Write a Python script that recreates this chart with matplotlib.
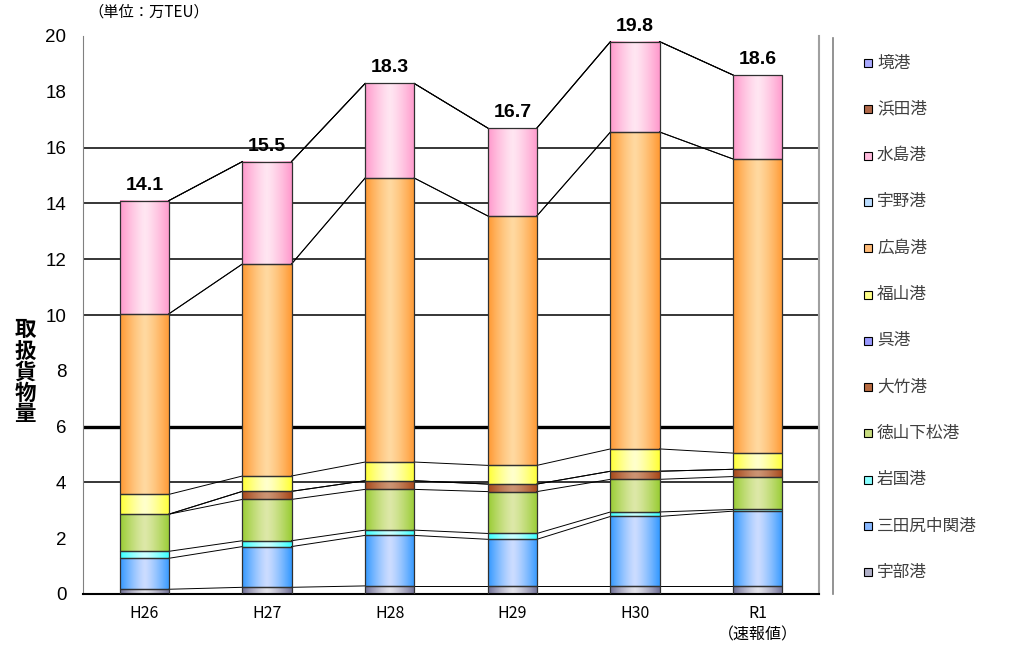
import numpy as np
import matplotlib
matplotlib.use('Agg')
import matplotlib.pyplot as plt
from matplotlib.colors import to_rgb
from matplotlib.lines import Line2D
from matplotlib.patches import Rectangle

plt.rcParams['font.family'] = ['Noto Sans CJK JP', 'DejaVu Sans']
NUM_FONT = ['Liberation Sans Narrow', 'Liberation Sans', 'DejaVu Sans']

# ---- data (万TEU) ----
years = ['H26', 'H27', 'H28', 'H29', 'H30', 'R1\n（速報値）']
ports = ['宇部港', '三田尻中関港', '岩国港', '徳山下松港', '大竹港', '呉港',
         '福山港', '広島港', '宇野港', '水島港', '浜田港', '境港']

ube = [0.17, 0.24, 0.29, 0.29, 0.29, 0.29]
mitajiri = [1.11, 1.46, 1.81, 1.67, 2.49, 2.68]
iwakuni = [0.25, 0.21, 0.19, 0.21, 0.16, 0.06]
tokuyama = [1.33, 1.48, 1.46, 1.50, 1.17, 1.18]
otake = [0.00, 0.29, 0.31, 0.27, 0.29, 0.26]
kure = [0.00, 0.00, 0.00, 0.00, 0.00, 0.00]
fukuyama = [0.71, 0.55, 0.67, 0.67, 0.80, 0.58]
hiroshima = [6.47, 7.60, 10.18, 8.94, 11.36, 10.54]
uno = [0.00, 0.00, 0.00, 0.00, 0.00, 0.00]
mizushima = [4.06, 3.67, 3.39, 3.15, 3.24, 3.01]
hamada = [0.00, 0.00, 0.00, 0.00, 0.00, 0.00]
sakai = [0.00, 0.00, 0.00, 0.00, 0.00, 0.00]

series = [ube, mitajiri, iwakuni, tokuyama, otake, kure,
          fukuyama, hiroshima, uno, mizushima, hamada, sakai]

# (edge shade, centre highlight) for the cylinder-like gradient
shades = [('#707096', '#e2e2ea'), ('#3399ff', '#ccdcff'), ('#33ffff', '#ccffff'),
          ('#99cc33', '#dde8a8'), ('#a84818', '#cc9474'), ('#4444dd', '#ccccff'),
          ('#ffff33', '#ffffcc'), ('#ff9933', '#ffd9a0'), ('#66aaff', '#e0f0ff'),
          ('#ff99cc', '#ffe6f2'), ('#a04820', '#cc9474'), ('#7777ff', '#ccccff')]
legend_face = ['#b0b0c8', '#88b8ff', '#88ffff', '#c8dd80', '#b86a40', '#9999ff',
               '#ffff88', '#ffbb77', '#bbddff', '#ffbbdd', '#b06848', '#aaaaff']

W = 0.40
x = np.arange(len(years))

fig = plt.figure(figsize=(10.17, 6.59), dpi=100)
ax = fig.add_axes([83 / 1017, 65 / 659, (819 - 83) / 1017, (594 - 36) / 659])

# horizontal reference lines
for g in [4, 10, 12, 14, 16]:
    ax.axhline(g, color='black', lw=1.1, zorder=1)
ax.axhline(6, color='black', lw=2.4, zorder=1)

t = np.linspace(-1, 1, 80)
mix = np.abs(t) ** 1.3

vals = np.array(series)
tops = np.cumsum(vals, axis=0)
bottoms = tops - vals

for k, s in enumerate(series):
    dark = np.array(to_rgb(shades[k][0]))
    light = np.array(to_rgb(shades[k][1]))
    grad = light[None, :] * (1 - mix[:, None]) + dark[None, :] * mix[:, None]
    for i in range(len(years)):
        if s[i] <= 0:
            continue
        b, tp = bottoms[k, i], tops[k, i]
        ax.imshow(grad[None, :, :], extent=(x[i] - W / 2, x[i] + W / 2, b, tp),
                  aspect='auto', interpolation='bilinear', zorder=2)
        ax.add_patch(Rectangle((x[i] - W / 2, b), W, s[i], fill=False,
                               edgecolor='#303030', lw=0.9, zorder=3))

# series lines joining the stack boundaries of neighbouring bars
for k in range(len(series)):
    for i in range(len(years) - 1):
        ax.plot([x[i] + W / 2, x[i + 1] - W / 2], [tops[k, i], tops[k, i + 1]],
                color='black', lw=0.7, zorder=2.5)

totals = tops[-1]
for i, tot in enumerate(totals):
    ax.annotate(f'{tot:.1f}', (x[i], tot), xytext=(0, 5), textcoords='offset points',
                ha='center', va='bottom', fontsize=14, fontweight='bold',
                family=NUM_FONT)

ax.set_xlim(-0.5, 5.5)
ax.set_ylim(0, 20)
ax.set_yticks(np.arange(0, 21, 2))
ax.set_xticks(x)
ax.set_xticklabels(years, fontsize=11.5, linespacing=1.3)
ax.tick_params(axis='y', length=0, pad=12, labelsize=13.5)
for lab in ax.get_yticklabels():
    lab.set_family(NUM_FONT)
ax.tick_params(axis='x', length=0, pad=8)

ax.spines['top'].set_visible(False)
ax.spines['left'].set_color('#808080')
ax.spines['right'].set_color('#a0a0a0')
ax.spines['right'].set_linewidth(1.5)
ax.spines['bottom'].set_color('black')
ax.spines['bottom'].set_linewidth(1.5)

fig.text(88 / 1017, 1 - 12 / 659, '（単位：万TEU）', fontsize=11, va='center', ha='left')
fig.text(25 / 1017, 1 - 372 / 659, '\n'.join('取扱貨物量'), fontsize=15.5, fontweight='bold',
         ha='center', va='center', linespacing=1.0)

# legend panel
fig.add_artist(Line2D([833 / 1017, 833 / 1017], [1 - 38 / 659, 1 - 594 / 659],
                      color='#808080', lw=1.2))
for j, k in enumerate(range(len(ports) - 1, -1, -1)):
    yc = 1 - (63 + j * 46.3) / 659
    fig.add_artist(Rectangle((864 / 1017, yc - 4 / 659), 8 / 1017, 8 / 659,
                             facecolor=legend_face[k], edgecolor='black', lw=0.8))
    fig.text(877 / 1017, yc, ports[k], fontsize=12, color='#404040', va='center', ha='left')

fig.savefig('out.png', dpi=100)
